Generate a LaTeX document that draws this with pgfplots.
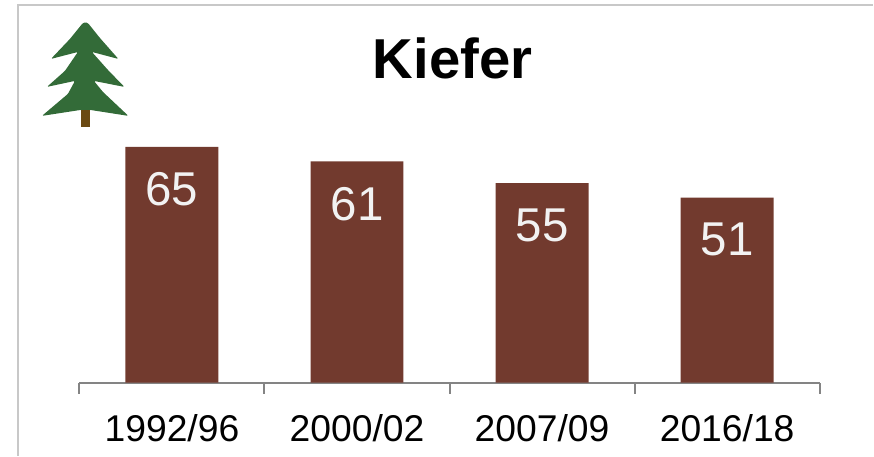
\documentclass[border=0pt]{standalone}
\usepackage{pgfplots}
\pgfplotsset{compat=1.18}
\usepackage{fontspec}
\setmainfont{Liberation Sans}
\definecolor{barc}{HTML}{723A2E}
\definecolor{treec}{HTML}{336B38}
\definecolor{trunkc}{HTML}{6B4A12}
\definecolor{framec}{HTML}{C8C8C8}
\definecolor{axisc}{HTML}{848484}
\begin{document}
\begin{tikzpicture}[x=1pt,y=1pt]
\path (0,0) rectangle (874,456);
\draw[framec,line width=1.8pt] (18,0) -- (18,451) -- (874,451);
% tree emblem
\fill[trunkc] (81,329) rectangle (90,350);
\fill[treec,rounded corners=1.2pt] (85.5,433.5) -- (88,433) -- (100,418) -- (118.5,397) -- (92,404) -- (108,386) -- (124.5,369) -- (94,375) -- (103,364) -- (128.5,340) -- (90,346) -- (81,346) -- (42,340) -- (68,362) -- (75,375) -- (47,369) -- (65,385) -- (78,404) -- (51,397) -- (70,417) -- (83,433) -- cycle;
\node[anchor=base,font=\bfseries\fontsize{56.3}{60}\selectfont,text=black] at (453,377) {Kiefer};
\begin{axis}[
  at={(79.5pt,73pt)},anchor=south west,
  scale only axis,width=741pt,height=363pt,
  xmin=-0.5,xmax=3.5,ymin=0,ymax=100,
  axis y line=none,
  axis x line=bottom,
  x axis line style={draw=axisc,line width=2pt,-},
  xtick={0,1,2,3},
  xticklabels={1992/96,2000/02,2007/09,2016/18},
  minor xtick={-0.5,0.5,1.5,2.5,3.5},
  major tick length=0pt,
  minor tick length=11pt,
  tick align=outside,
  minor tick style={draw=axisc,line width=2pt},
  x tick label style={font=\fontsize{37.3}{40}\selectfont,text=black,anchor=base,yshift=-59pt},
  /pgf/number format/assume math mode=true,
  clip=false,
]
\addplot[ybar,bar width=93pt,fill=barc,draw=none,
  nodes near coords,
  every node near coord/.append style={font=\fontsize{47.5}{50}\selectfont,text=white!95!black,anchor=north,yshift=-22pt},
] coordinates {(0,65) (1,61) (2,55) (3,51)};
\end{axis}
\end{tikzpicture}
\end{document}
